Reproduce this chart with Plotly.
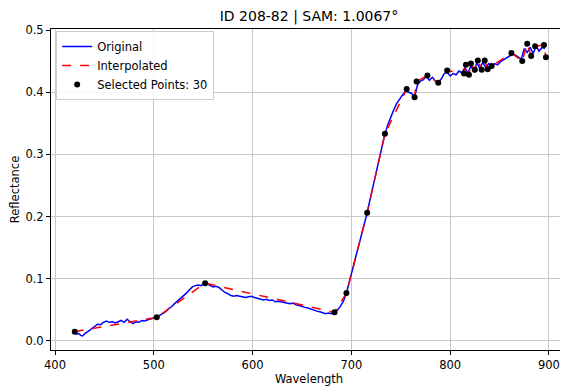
import plotly.graph_objects as go

# Original spectrum
orig_wl = [420,422,424,426,428,431,434,437,440,443,446,449,452,455,458,461,464,467,470,473,476,479,482,485,488,491,494,497,500,503,
           506,509,512,515,518,521,524,527,530,533,536,539,542,545,548,551,554,557,560,563,566,569,572,575,578,581,584,587,590,593,
           596,599,602,605,608,611,614,617,620,623,626,629,632,635,638,641,644,647,650,653,656,659,662,665,668,671,674,677,680,683,
           686,689,692,695,698,701,704,707,710,713,716,719,722,725,728,731,734,737,740,743,746,749,752,755,758,761,764,767,770,773,
           776,779,782,785,788,791,794,797,800,803,806,809,812,815,818,821,824,827,830,833,836,839,842,845,848,851,854,857,860,863,
           866,869,872,875,878,881,884,887,890,893,896]
orig_refl = [0.014,0.011,0.012,0.009,0.008,0.013,0.016,0.020,0.024,0.027,0.026,0.030,0.032,0.030,0.031,0.029,0.031,0.033,0.030,0.035,
             0.031,0.028,0.031,0.030,0.033,0.032,0.034,0.035,0.037,0.038,0.041,0.044,0.047,0.052,0.055,0.060,0.064,0.069,0.073,0.077,
             0.082,0.087,0.089,0.090,0.089,0.093,0.092,0.089,0.087,0.088,0.086,0.082,0.078,0.076,0.073,0.072,0.073,0.072,0.071,0.070,
             0.071,0.072,0.070,0.069,0.068,0.066,0.067,0.065,0.066,0.063,0.064,0.063,0.062,0.062,0.060,0.061,0.058,0.057,0.055,0.054,
             0.053,0.051,0.050,0.048,0.047,0.045,0.044,0.045,0.044,0.046,0.050,0.056,0.064,0.077,0.095,0.113,0.131,0.150,0.168,0.187,
             0.206,0.228,0.250,0.272,0.293,0.313,0.333,0.348,0.361,0.372,0.382,0.390,0.396,0.402,0.400,0.398,0.392,0.412,0.418,0.420,
             0.426,0.419,0.424,0.418,0.416,0.421,0.430,0.432,0.426,0.430,0.428,0.434,0.431,0.440,0.430,0.443,0.432,0.448,0.438,0.448,
             0.440,0.446,0.441,0.446,0.444,0.449,0.452,0.455,0.458,0.461,0.460,0.456,0.453,0.470,0.464,0.472,0.462,0.474,0.466,0.472,
             0.470]

# Selected points (30)
sel_wl = [420,503,552,683,695,716,734,756,764,766,777,788,797,814,816,819,821,825,828,832,835,838,842,862,873,878,882,886,895,897]
sel_refl = [0.015,0.038,0.093,0.046,0.077,0.206,0.333,0.405,0.392,0.417,0.427,0.415,0.435,0.430,0.444,0.428,0.446,0.436,0.451,0.436,
            0.451,0.437,0.442,0.463,0.450,0.478,0.458,0.474,0.476,0.456]

x_ticks = [400,500,600,700,800,900]
y_ticks = [0.0,0.1,0.2,0.3,0.4,0.5]

font = "DejaVu Sans, Arial, sans-serif"

fig = go.Figure()
fig.add_trace(go.Scatter(x=orig_wl, y=orig_refl, mode="lines", name="Original",
                         line=dict(color="blue", width=1.5)))
fig.add_trace(go.Scatter(x=sel_wl, y=sel_refl, mode="lines", name="Interpolated",
                         line=dict(color="red", width=1.5, dash="dash")))
fig.add_trace(go.Scatter(x=sel_wl, y=sel_refl, mode="markers", name=f"Selected Points: {len(sel_wl)}",
                         marker=dict(color="black", size=6)))

axis_common = dict(showline=True, linecolor="black", linewidth=1, mirror=True,
                   ticks="outside", ticklen=4, tickcolor="black", tickwidth=1,
                   showgrid=True, gridcolor="#c8c8c8", gridwidth=1, zeroline=False,
                   tickfont=dict(family=font, size=11.5, color="black"))

# The page body has an 8px margin, so the figure is 8px smaller than the window.
fig.update_layout(
    width=560, height=379,
    paper_bgcolor="white", plot_bgcolor="white",
    margin=dict(l=43, r=1, t=21, b=37, autoexpand=False),
    title=dict(text="ID 208-82 | SAM: 1.0067°", x=0.5, xref="paper", xanchor="center",
               y=1 - 8/379, yanchor="middle", font=dict(family=font, size=14, color="black")),
    xaxis=dict(range=[395.95, 918.3], tickvals=x_ticks, ticktext=[str(v) for v in x_ticks],
               title=dict(text="Wavelength", font=dict(family=font, size=11.5, color="black"), standoff=3),
               **axis_common),
    yaxis=dict(range=[-0.0145, 0.5016], tickvals=y_ticks, ticktext=[f"{v:.1f}" for v in y_ticks],
               title=dict(text="Reflectance", font=dict(family=font, size=11.5, color="black"), standoff=5),
               **axis_common),
    legend=dict(x=0.01, y=0.994, xanchor="left", yanchor="top",
                bgcolor="rgba(255,255,255,0.85)", bordercolor="#cccccc", borderwidth=1,
                font=dict(family=font, size=11.5, color="black"), tracegroupgap=0, itemwidth=30),
    showlegend=True,
)

fig.write_html("out.html")
